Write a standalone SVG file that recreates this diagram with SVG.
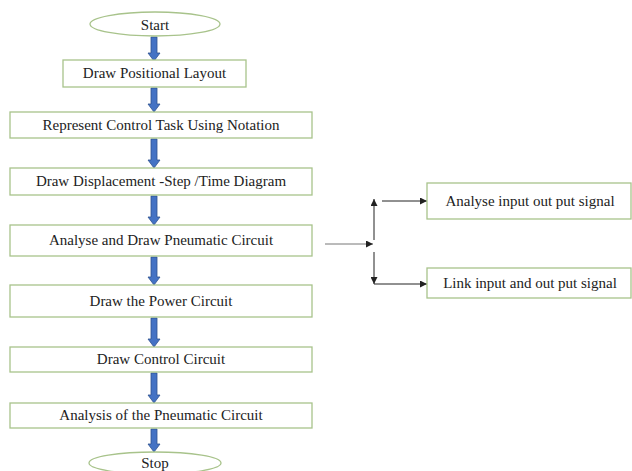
<svg xmlns="http://www.w3.org/2000/svg" width="632" height="471" viewBox="0 0 632 471">
<defs>
<style>
.box{fill:#fff;stroke:#A8C38B;stroke-width:1.3}
.t{font-family:"Liberation Serif","Times New Roman",serif;font-size:15px;fill:#222;text-anchor:middle}
.blue{fill:#4472C4;stroke:#2F528F;stroke-width:0.8}
.ln{fill:none;stroke:#222;stroke-width:1}
.gl{fill:none;stroke:#777;stroke-width:1}
</style>
<marker id="ah" viewBox="0 0 10 10" refX="10" refY="5" markerWidth="7" markerHeight="7" markerUnits="userSpaceOnUse" orient="auto">
<path d="M0,0 L10,5 L0,10 z" fill="#222"/>
</marker>
</defs>
<rect width="632" height="471" fill="#fff"/>

<g id="connectors">
<path class="blue" d="M151,37 L157,37 L157,53 L160,53 L154,61 L148,53 L151,53 z"/>
<path class="blue" d="M151,88 L157,88 L157,104 L160,104 L154,112 L148,104 L151,104 z"/>
<path class="blue" d="M151,139 L157,139 L157,160 L160,160 L154,168 L148,160 L151,160 z"/>
<path class="blue" d="M151,196 L157,196 L157,217 L160,217 L154,225 L148,217 L151,217 z"/>
<path class="blue" d="M151,257 L157,257 L157,277 L160,277 L154,285 L148,277 L151,277 z"/>
<path class="blue" d="M151,318 L157,318 L157,339 L160,339 L154,347 L148,339 L151,339 z"/>
<path class="blue" d="M151,373 L157,373 L157,395 L160,395 L154,403 L148,395 L151,395 z"/>
<path class="blue" d="M151,429 L157,429 L157,444 L160,444 L154,452 L148,444 L151,444 z"/>
<line class="gl" x1="325" y1="244" x2="373" y2="244" marker-end="url(#ah)"/>
<line class="ln" x1="374" y1="240" x2="374" y2="199" marker-end="url(#ah)"/>
<line class="ln" x1="374" y1="252" x2="374" y2="284" marker-end="url(#ah)"/>
<line class="ln" x1="382" y1="201" x2="427" y2="201" marker-end="url(#ah)"/>
<line class="ln" x1="374" y1="284" x2="427" y2="284" marker-end="url(#ah)"/>
</g>

<g id="start">
<ellipse class="box" cx="155" cy="24" rx="65" ry="12"/>
<text class="t" x="155" y="30" font-size="16.5">Start</text>
</g>
<g id="n1">
<rect class="box" x="63" y="60" width="183" height="27"/>
<text class="t" x="154.5" y="78">Draw Positional Layout</text>
</g>
<g id="n2">
<rect class="box" x="10" y="112" width="302" height="26"/>
<text class="t" x="161" y="130">Represent Control Task Using Notation</text>
</g>
<g id="n3">
<rect class="box" x="10" y="168" width="302" height="27"/>
<text class="t" x="161" y="186">Draw Displacement -Step /Time Diagram</text>
</g>
<g id="n4">
<rect class="box" x="10" y="225" width="302" height="31"/>
<text class="t" x="161" y="245">Analyse and Draw Pneumatic Circuit</text>
</g>
<g id="n5">
<rect class="box" x="10" y="285" width="302" height="32"/>
<text class="t" x="161" y="306">Draw the Power Circuit</text>
</g>
<g id="n6">
<rect class="box" x="10" y="347" width="302" height="25"/>
<text class="t" x="161" y="364">Draw Control Circuit</text>
</g>
<g id="n7">
<rect class="box" x="10" y="403" width="302" height="25"/>
<text class="t" x="161" y="420">Analysis of the Pneumatic Circuit</text>
</g>
<g id="stop">
<ellipse class="box" cx="155" cy="463" rx="66" ry="11"/>
<text class="t" x="155" y="468" font-size="16">Stop</text>
</g>
<g id="a1">
<rect class="box" x="427" y="183" width="204" height="36"/>
<text class="t" x="530" y="206">Analyse input out put signal</text>
</g>
<g id="a2">
<rect class="box" x="427" y="268" width="204" height="30"/>
<text class="t" x="530" y="288">Link input and out put signal</text>
</g>
</svg>
